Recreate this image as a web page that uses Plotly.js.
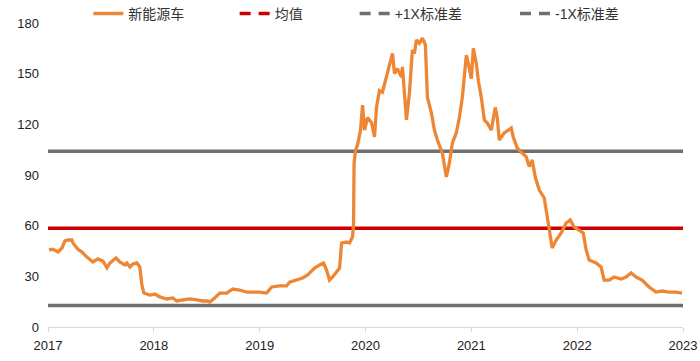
<!DOCTYPE html>
<html>
<head>
<meta charset="utf-8">
<script src="https://cdn.plot.ly/plotly-3.0.1.min.js"></script>
<style>html,body{margin:0;padding:0;background:#fff;}#chart{width:700px;height:361px;}</style>
</head>
<body>
<div id="chart"></div>
<script>
// Time position (decimal year) and valuation of the NEV sector
const timePos = [
  2017.009,2017.047,2017.094,2017.132,2017.160,2017.189,2017.226,2017.236,2017.283,2017.321,
  2017.368,2017.425,2017.472,2017.519,2017.557,2017.585,2017.642,2017.679,2017.726,2017.745,
  2017.774,2017.802,2017.840,2017.868,2017.887,2017.906,2017.962,2018.009,2018.057,2018.123,
  2018.179,2018.217,2018.274,2018.340,2018.406,2018.462,2018.509,2018.528,2018.575,2018.623,
  2018.689,2018.745,2018.811,2018.877,2018.934,2019.000,2019.066,2019.113,2019.189,2019.255,
  2019.283,2019.349,2019.406,2019.453,2019.519,2019.566,2019.604,2019.632,2019.660,2019.689,
  2019.726,2019.755,2019.774,2019.821,2019.849,2019.877,2019.887,2019.892,2019.906,2019.925,
  2019.953,2019.972,2019.991,2020.019,2020.057,2020.085,2020.104,2020.132,2020.160,2020.198,
  2020.226,2020.255,2020.274,2020.302,2020.340,2020.349,2020.387,2020.415,2020.443,2020.462,
  2020.481,2020.509,2020.538,2020.566,2020.585,2020.623,2020.651,2020.679,2020.726,2020.764,
  2020.792,2020.821,2020.858,2020.887,2020.915,2020.953,2020.972,2021.000,2021.019,2021.047,
  2021.066,2021.094,2021.123,2021.151,2021.189,2021.226,2021.245,2021.264,2021.311,2021.377,
  2021.396,2021.434,2021.481,2021.519,2021.547,2021.575,2021.604,2021.642,2021.689,2021.717,
  2021.745,2021.764,2021.802,2021.849,2021.896,2021.934,2021.972,2022.019,2022.057,2022.085,
  2022.113,2022.179,2022.226,2022.255,2022.302,2022.349,2022.415,2022.462,2022.509,2022.557,
  2022.613,2022.679,2022.745,2022.802,2022.868,2022.934,2022.991
];
const nevValue = [
  45.6,46.0,44.4,46.8,51.0,51.5,51.5,49.7,46.0,44.4,
  41.4,38.5,40.3,39.0,35.0,37.9,40.9,38.5,36.7,37.9,
  35.5,37.3,37.9,35.5,24.9,20.1,18.9,19.5,17.8,16.6,
  17.2,15.4,16.0,16.6,16.0,15.4,15.4,14.8,17.2,20.1,
  20.1,22.5,21.9,20.7,20.7,20.7,20.1,23.7,24.3,24.3,
  26.6,27.8,29.0,30.8,34.9,36.7,37.9,33.7,27.8,29.6,
  32.6,34.9,49.7,50.3,49.7,53.3,60.4,97.0,104.8,107.8,
  116.6,131.4,116.6,124.0,121.0,112.5,130.0,140.0,139.0,148.0,
  156.0,162.0,150.0,153.0,148.0,154.0,122.6,138.5,164.0,162.0,
  170.0,168.0,171.0,167.0,136.0,126.7,116.6,110.7,103.0,88.8,
  97.0,109.0,114.9,124.0,136.0,161.0,156.0,147.0,165.0,156.0,
  146.0,136.0,122.6,120.8,116.6,130.0,124.0,110.7,114.9,117.8,
  112.5,106.0,103.0,100.7,95.0,98.9,88.8,81.1,76.4,65.1,
  51.5,46.8,51.5,55.7,61.6,63.4,59.2,57.4,55.7,45.6,
  39.7,37.9,35.5,27.8,27.8,29.6,28.4,29.6,32.0,29.6,
  27.8,23.7,20.7,21.3,20.7,20.7,20.1
];
const meanValue = 58.4;
const plusStdValue = 104.0;
const minusStdValue = 12.8;
const lineSpan = [2017, 2023];
const yearTicks = [2017, 2018, 2019, 2020, 2021, 2022, 2023];
const yTicks = [0, 30, 60, 90, 120, 150, 180];
const seriesNames = ['新能源车', '均值', '+1X标准差', '-1X标准差'];

const ORANGE = '#EE8633', RED = '#CC0000', GREY = '#6F6F6F';
const legendDash = '11px,8px';

const traces = [
  {x: lineSpan, y: [plusStdValue, plusStdValue], mode: 'lines', line: {color: GREY, width: 3.5}, showlegend: false, hoverinfo: 'skip'},
  {x: lineSpan, y: [minusStdValue, minusStdValue], mode: 'lines', line: {color: GREY, width: 3.5}, showlegend: false, hoverinfo: 'skip'},
  {x: lineSpan, y: [meanValue, meanValue], mode: 'lines', line: {color: RED, width: 3.5}, showlegend: false, hoverinfo: 'skip'},
  {x: timePos, y: nevValue, mode: 'lines', name: seriesNames[0], line: {color: ORANGE, width: 3.3}, legend: 'legend'},
  {x: [null], y: [null], mode: 'lines', name: seriesNames[1], line: {color: RED, width: 3.5, dash: legendDash}, legend: 'legend2'},
  {x: [null], y: [null], mode: 'lines', name: seriesNames[2], line: {color: GREY, width: 3.5, dash: legendDash}, legend: 'legend3'},
  {x: [null], y: [null], mode: 'lines', name: seriesNames[3], line: {color: GREY, width: 3.5, dash: legendDash}, legend: 'legend4'}
];

const legendFont = {family: 'Liberation Sans, Arial, "Noto Sans CJK SC", sans-serif', size: 14, color: '#333333'};
function lg(x) {
  return {x: x, y: 1.03, xanchor: 'left', yanchor: 'middle', orientation: 'h', bgcolor: 'rgba(0,0,0,0)', font: legendFont, borderwidth: 0};
}

const layout = {
  width: 700, height: 361,
  margin: {l: 48, r: 17, t: 23, b: 34, autoexpand: false},
  paper_bgcolor: '#ffffff', plot_bgcolor: '#ffffff',
  showlegend: true,
  legend: lg(0.0635),
  legend2: lg(0.2939),
  legend3: lg(0.4829),
  legend4: lg(0.7354),
  xaxis: {
    range: [2017, 2023], tickvals: yearTicks, ticktext: yearTicks.map(String),
    showgrid: false, zeroline: false, showline: true, linecolor: '#D9D9D9', linewidth: 1,
    ticks: 'outside', ticklen: 4, tickcolor: '#D9D9D9', ticklabelstandoff: 2,
    tickfont: {family: 'Liberation Sans, Arial, sans-serif', size: 13, color: '#222222'}
  },
  yaxis: {
    range: [0, 180], tickvals: yTicks, showgrid: false, zeroline: false, showline: false,
    ticks: '', ticklabelstandoff: 8,
    tickfont: {family: 'Liberation Sans, Arial, sans-serif', size: 13, color: '#222222'}
  }
};

Plotly.newPlot('chart', traces, layout, {staticPlot: true, displayModeBar: false});
</script>
</body>
</html>
